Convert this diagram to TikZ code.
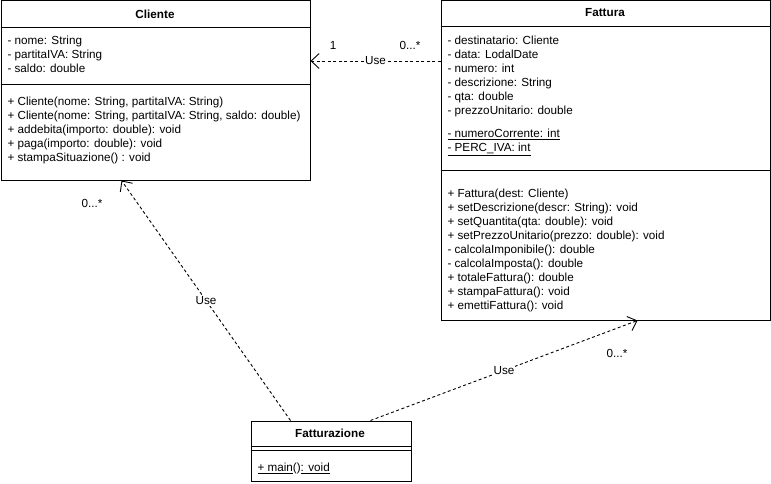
\documentclass[tikz,border=0pt]{standalone}
\usepackage{fontspec}
\setmainfont{Liberation Sans}
\usetikzlibrary{arrows.meta,positioning}

\begin{document}
\begin{tikzpicture}[x=1pt,y=-1pt,line width=1pt,inner sep=0pt,
  font=\fontsize{11.7}{14}\selectfont,
  >={Straight Barb[length=8pt,width=15pt,line width=0.9pt]},
  classbox/.style={draw,anchor=north west},
  title/.style={font=\fontsize{11.7}{14}\selectfont\bfseries},
  members/.style={align=left,anchor=north west},
  use/.style={dash pattern=on 3pt off 2.5pt,line width=0.9pt},
  uselabel/.style={fill=white,inner sep=1pt}]
\useasboundingbox (0,0) rectangle (771,484);

% class boxes
\node (cliente) [classbox,minimum width=309pt,minimum height=179pt] at (0.5,0.5) {};
\node (fattura) [classbox,minimum width=329pt,minimum height=319pt] at (440.5,0.5) {};
\node (fatturazione) [classbox,minimum width=160pt,minimum height=60pt] at (250.5,420.5) {};

\draw ([yshift=-27pt]cliente.north west) -- ([yshift=-27pt]cliente.north east);
\draw ([yshift=-84pt]cliente.north west) -- ([yshift=-84pt]cliente.north east);
\draw ([yshift=-26pt]fattura.north west) -- ([yshift=-26pt]fattura.north east);
\draw ([yshift=-170pt]fattura.north west) -- ([yshift=-170pt]fattura.north east);
\draw ([yshift=-26pt]fatturazione.north west) -- ([yshift=-26pt]fatturazione.north east);
\draw ([yshift=-30pt]fatturazione.north west) -- ([yshift=-30pt]fatturazione.north east);

% Cliente
\node (cliTitle) [title] at (155,14) {Cliente};
\node (cliAttr) [members] at (7,35.5) {- nome: String\\- partitaIVA: String\\- saldo: double};
\node (cliOps) [members] at (7,96.5) {+ Cliente(nome: String, partitaIVA: String)\\
+ Cliente(nome: String, partitaIVA: String, saldo: double)\\
+ addebita(importo: double): void\\
+ paga(importo: double): void\\
+ stampaSituazione() : void};

% Fattura
\node (fatTitle) [title] at (605,13) {Fattura};
\node (fatAttr) [members] at (447,35.5) {- destinatario: Cliente\\- data: LodalDate\\- numero: int\\
- descrizione: String\\- qta: double\\- prezzoUnitario: double};
\node (fatStatic) [members] at (447,128.5) {\underline{- numeroCorrente: int}\\\underline{- PERC\_IVA: int}};
\node (fatOps) [members] at (447,188.5) {+ Fattura(dest: Cliente)\\
+ setDescrizione(descr: String): void\\
+ setQuantita(qta: double): void\\
+ setPrezzoUnitario(prezzo: double): void\\
- calcolaImponibile(): double\\
- calcolaImposta(): double\\
+ totaleFattura(): double\\
+ stampaFattura(): void\\
+ emettiFattura(): void};

% Fatturazione
\node (fzTitle) [title] at (330,433) {Fatturazione};
\node (fzOps) [members] at (257,462.5) {\underline{+ main}()\underline{: void}};

% dependencies
\draw [use,->] (fattura.west |- 0,61) -- node [uselabel] {Use} (cliente.east |- 0,61);
\draw [use,->] ([xshift=40pt]fatturazione.north west) -- node [uselabel] {Use} ([xshift=121pt]cliente.south west);
\draw [use,->] ([xshift=120pt]fatturazione.north west) -- node [uselabel] {Use} ([xshift=197pt]fattura.south west);

\node (m1) at (333,45) {1};
\node (m2) at (410,45) {0...*};
\node (m3) at (92,203) {0...*};
\node (m4) at (617,353) {0...*};
\end{tikzpicture}
\end{document}
